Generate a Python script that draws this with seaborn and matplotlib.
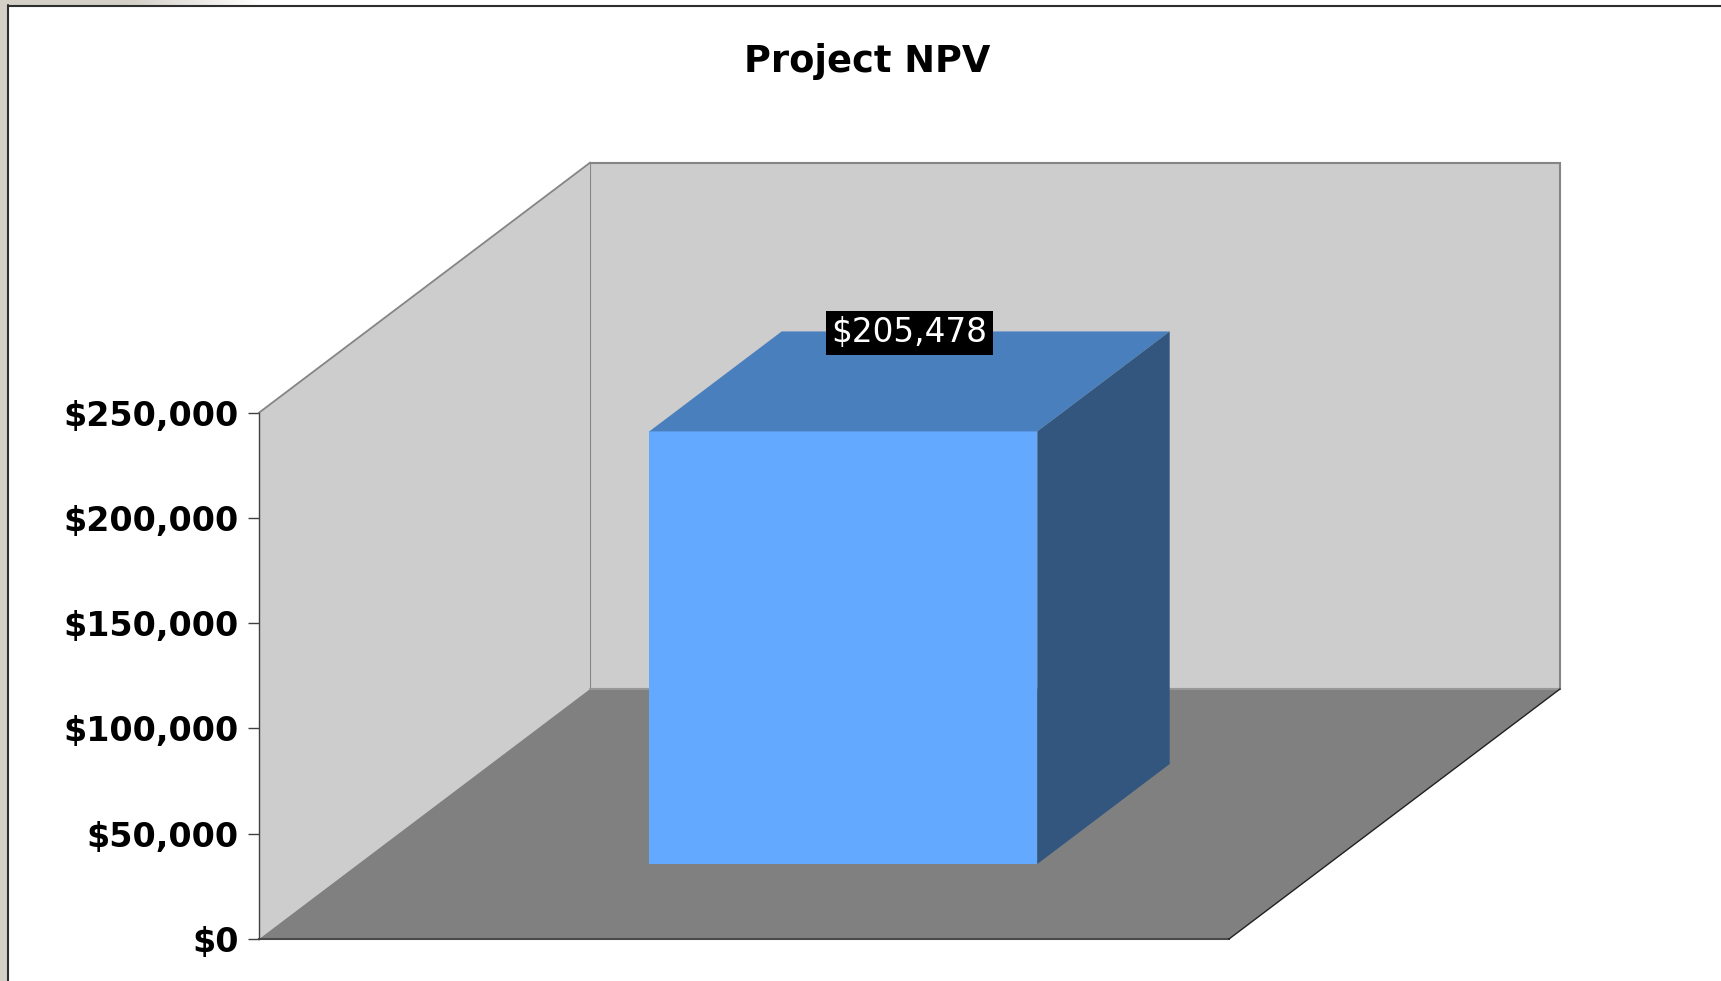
import numpy as np
import pandas as pd
import matplotlib
matplotlib.use("Agg")
import matplotlib.pyplot as plt
import seaborn as sns
from matplotlib.patches import Polygon, Rectangle
from matplotlib.transforms import ScaledTranslation
from matplotlib.lines import Line2D
from matplotlib.colors import LinearSegmentedColormap

# ---- data ----
categories = ["Project NPV"]
npv_values = [205478]
y_ticks = [0, 50000, 100000, 150000, 200000, 250000]
y_tick_labels = [f"${v:,.0f}" for v in y_ticks]
chart_title = "Project NPV"

# ---- figure ----
W_PX, H_PX, DPI = 1721, 981, 100
sns.set_style("white")
plt.rcParams["font.family"] = ["DejaVu Sans"]
plt.rcParams["text.color"] = "black"
plt.rcParams["ytick.labelcolor"] = "black"

fig = plt.figure(figsize=(W_PX / DPI, H_PX / DPI), dpi=DPI)
fig.patch.set_facecolor("white")

# front plane of the chart box (pixels)
left_px, right_px, base_px, top_px = 259, 1229, 939, 412.7
ax = fig.add_axes([left_px / W_PX, 1 - base_px / H_PX,
                   (right_px - left_px) / W_PX, (base_px - top_px) / H_PX])
ax.set_facecolor("none")

df = pd.DataFrame({"project": categories, "npv": npv_values})
sns.barplot(data=df, x="project", y="npv", width=0.4, color="#63A9FF",
            saturation=1, errorbar=None, ax=ax, zorder=5)
bar = ax.patches[0]

ax.set_xlim(-0.5, 0.5)
ax.set_ylim(y_ticks[0], y_ticks[-1])

# oblique depth direction in inches, and the same vector in data units
depth_in = np.array([3.31, 2.50])
ax_w_in = (right_px - left_px) / DPI
ax_h_in = (base_px - top_px) / DPI
(x_lo, x_hi), (y_lo, y_hi) = ax.get_xlim(), ax.get_ylim()
vx = depth_in[0] / ax_w_in * (x_hi - x_lo)
vy = depth_in[1] / ax_h_in * (y_hi - y_lo)


def pt(x, y, d):
    return (x + d * vx, y + d * vy)


def face(pts, fc, ec="none", lw=0, z=1):
    p = Polygon(pts, closed=True, facecolor=fc, edgecolor=ec, linewidth=lw,
                clip_on=False, zorder=z, joinstyle="miter")
    ax.add_patch(p)
    return p


def edge(p0, p1, color, lw, z):
    ax.add_line(Line2D([p0[0], p1[0]], [p0[1], p1[1]], color=color, lw=lw,
                       clip_on=False, zorder=z, solid_capstyle="projecting"))


wall_c, wall_edge, floor_c = "#CDCDCD", "#858585", "#808080"

# back wall
face([pt(x_lo, y_lo, 1), pt(x_hi, y_lo, 1), pt(x_hi, y_hi, 1), pt(x_lo, y_hi, 1)],
     wall_c, wall_edge, 1.5, z=1)
# side wall
face([pt(x_lo, y_lo, 0), pt(x_lo, y_lo, 1), pt(x_lo, y_hi, 1), pt(x_lo, y_hi, 0)],
     wall_c, z=1.5)
edge(pt(x_lo, y_hi, 0), pt(x_lo, y_hi, 1), wall_edge, 1.3, 1.6)
# floor
face([pt(x_lo, y_lo, 0), pt(x_hi, y_lo, 0), pt(x_hi, y_lo, 1), pt(x_lo, y_lo, 1)],
     floor_c, z=2)
edge(pt(x_lo, y_lo, 1), pt(x_hi, y_lo, 1), "#9A9A9A", 1.3, 2.1)
edge(pt(x_lo, y_lo, 0), pt(x_hi, y_lo, 0), "#4A4A4A", 1.5, 2.2)
edge(pt(x_hi, y_lo, 0), pt(x_hi, y_lo, 1), "#202020", 1.0, 2.2)

# bar: front face from seaborn, pushed back into the box; top and side faces
d0, d1 = 0.3, 0.7
bar.set_transform(ax.transData + ScaledTranslation(d0 * depth_in[0], d0 * depth_in[1],
                                                   fig.dpi_scale_trans))
bar.set_clip_on(False)
bar.set_edgecolor("none")
x0 = bar.get_x()
x1 = x0 + bar.get_width()
h = bar.get_height()
face([pt(x0, h, d0), pt(x1, h, d0), pt(x1, h, d1), pt(x0, h, d1)], "#4A7FBE", z=6)
face([pt(x1, y_lo, d0), pt(x1, h, d0), pt(x1, h, d1), pt(x1, y_lo, d1)], "#32567E", z=6)

# value label
ax.annotate(f"${h:,.0f}", xy=pt((x0 + x1) / 2, h, 0.5), xytext=(0, 35),
            textcoords="offset points", ha="center", va="center",
            color="white", fontsize=23.5, annotation_clip=False, zorder=10,
            bbox=dict(boxstyle="square,pad=0.16", fc="black", ec="none"))

# axes styling
for s in ["top", "right", "bottom"]:
    ax.spines[s].set_visible(False)
ax.spines["left"].set_color("#404040")
ax.spines["left"].set_linewidth(1.0)
ax.spines["left"].set_zorder(3)
ax.set_xticks([])
ax.set_xlabel("")
ax.set_ylabel("")
ax.set_yticks(y_ticks, labels=y_tick_labels, fontsize=24, fontweight="bold",
              color="black")
ax.tick_params(axis="y", direction="out", length=8, width=1.0, color="#404040",
               pad=6.5, left=True)
ax.grid(False)

# title
fig.text(867 / W_PX, 1 - 61 / H_PX, chart_title, ha="center", va="center",
         fontsize=26.5, fontweight="bold", color="black")

# window frame around the chart
frame_c = "#D4D0C8"
fig.patches.append(Rectangle((0, 0), 7 / W_PX, 1, transform=fig.transFigure,
                             facecolor=frame_c, edgecolor="none", zorder=0))
grad_ax = fig.add_axes([0, 1 - 5 / H_PX, 260 / W_PX, 5 / H_PX])
grad_cmap = LinearSegmentedColormap.from_list("frame", [frame_c, frame_c, "white"])
grad_ax.imshow(np.linspace(0, 1, 256)[None, :], aspect="auto", cmap=grad_cmap,
               interpolation="bilinear")
grad_ax.set_axis_off()
fig.add_artist(Line2D([8 / W_PX, 8 / W_PX], [0, 1 - 5 / H_PX], transform=fig.transFigure,
                      color="#2E2E2E", lw=1.5))
fig.add_artist(Line2D([8 / W_PX, 1], [1 - 6 / H_PX, 1 - 6 / H_PX], transform=fig.transFigure,
                      color="#2E2E2E", lw=1.5))

fig.savefig("out.png", dpi=DPI, facecolor=fig.get_facecolor())
